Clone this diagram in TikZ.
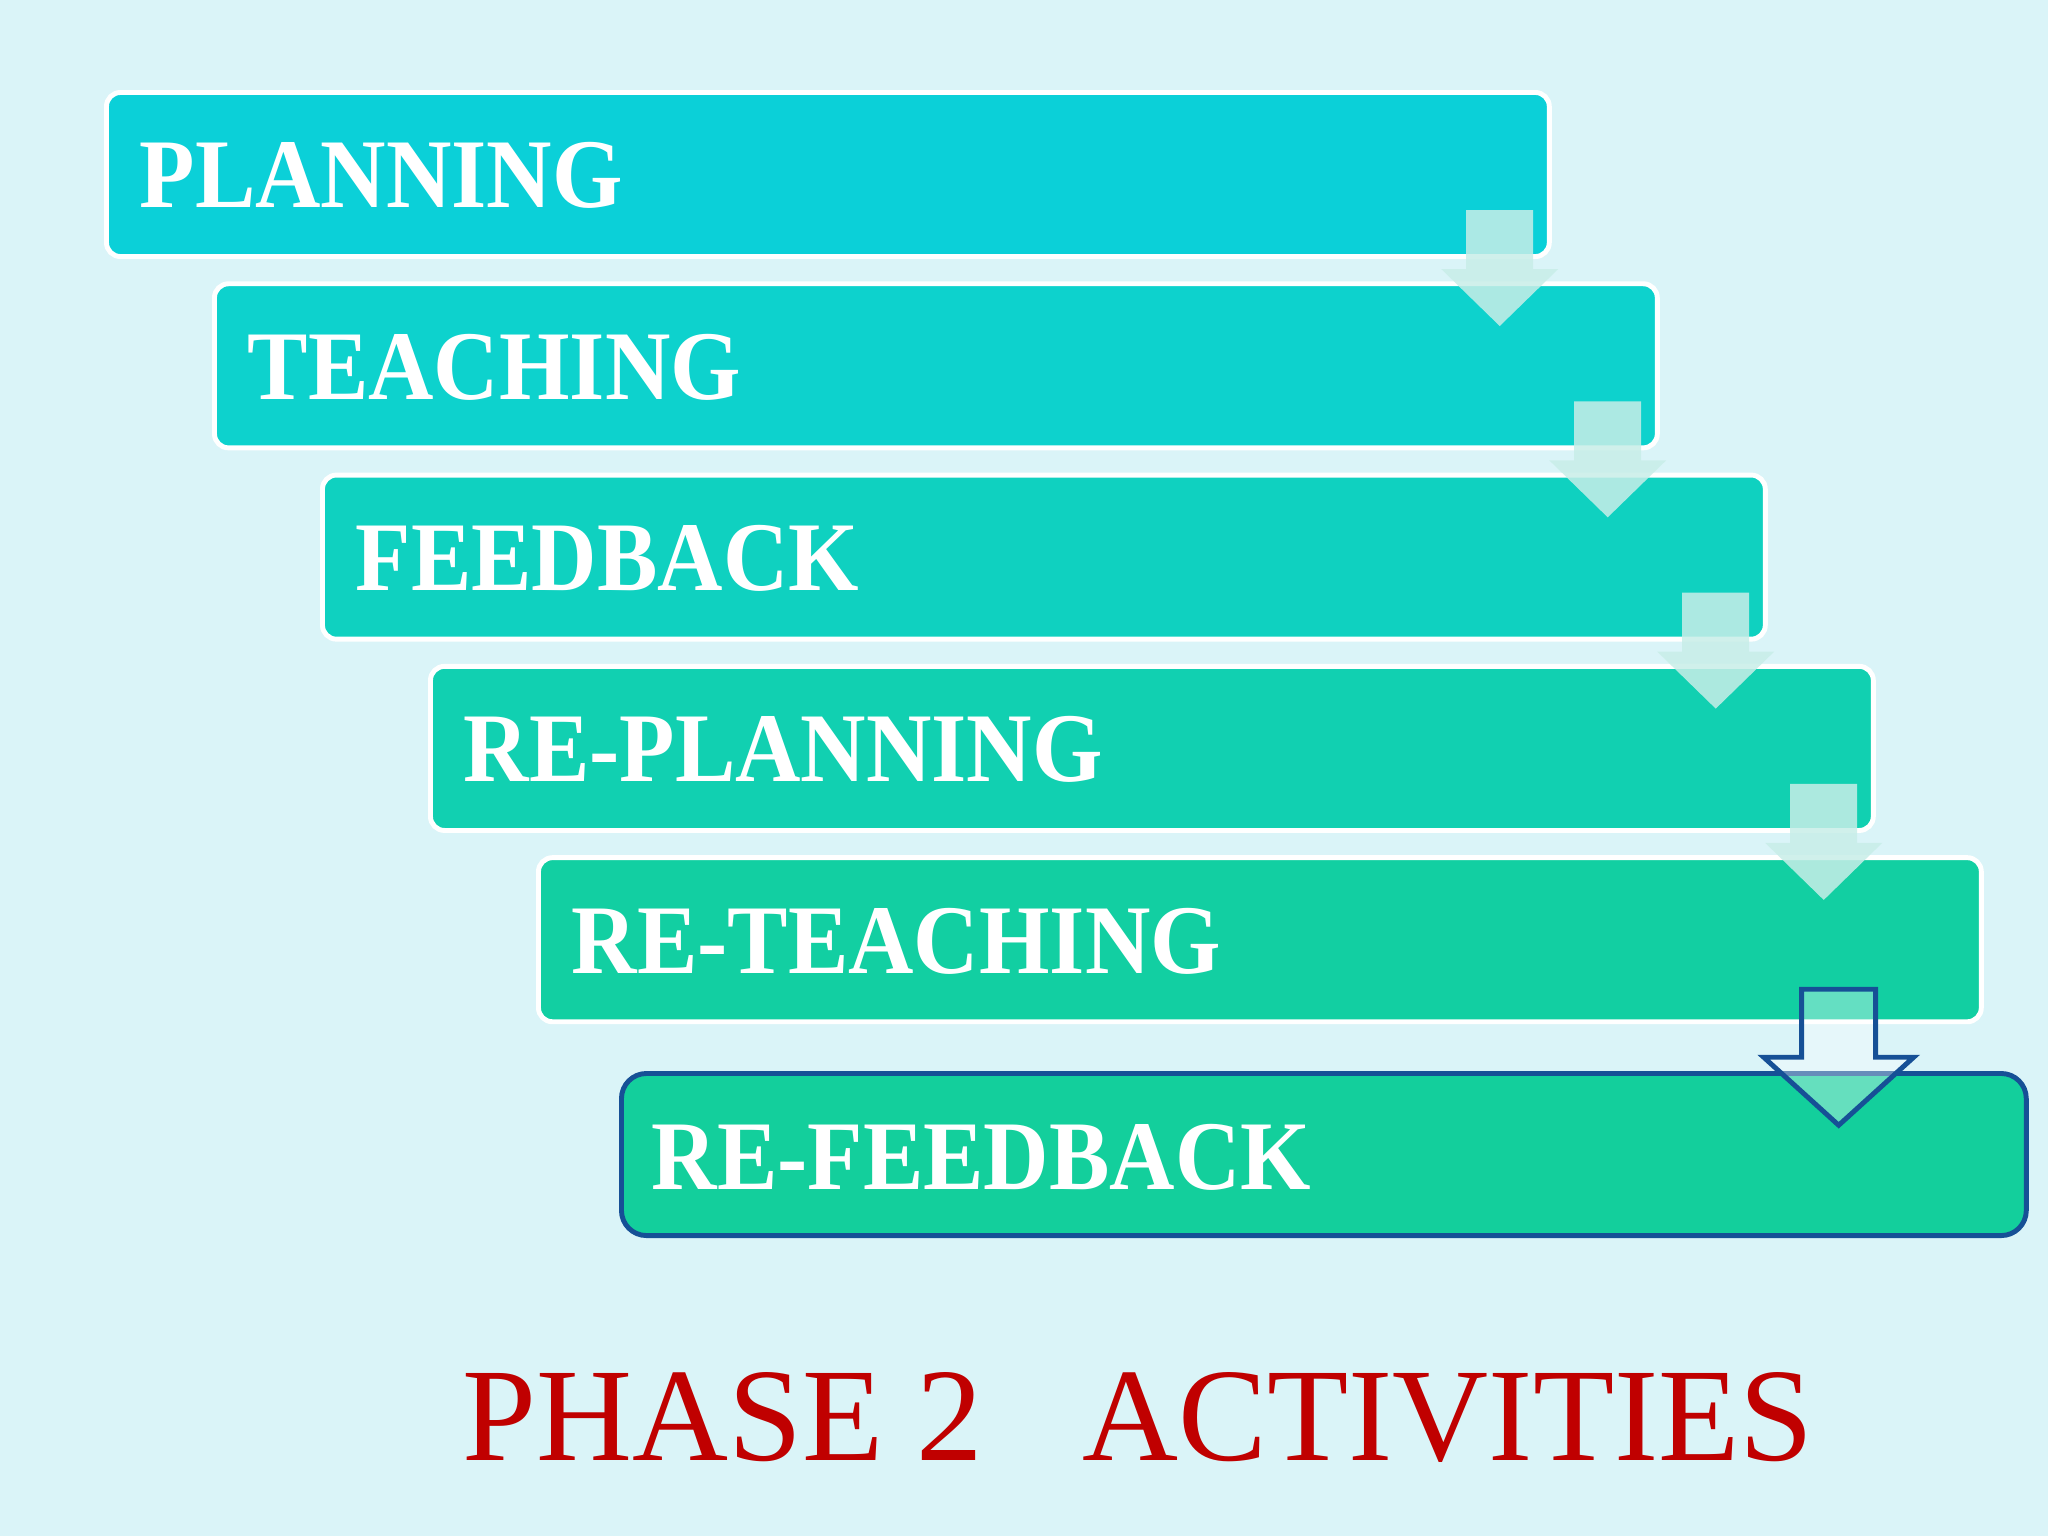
\documentclass[tikz,border=0pt]{standalone}
\usepackage{fontspec}
\setmainfont{Liberation Serif}
\newfontfamily\boxfont{Liberation Serif}[FakeStretch=0.92]
\usepackage{xcolor}

\definecolor{bgcol}{RGB}{218,244,248}
\definecolor{box1}{RGB}{11,208,216}
\definecolor{box2}{RGB}{13,210,205}
\definecolor{box3}{RGB}{15,209,192}
\definecolor{box4}{RGB}{17,208,177}
\definecolor{box5}{RGB}{18,207,162}
\definecolor{box6}{RGB}{19,207,156}
\definecolor{arrowfill}{RGB}{200,238,232}
\definecolor{arrowblue}{RGB}{22,80,150}
\definecolor{titlered}{RGB}{192,0,0}

\begin{document}
\begin{tikzpicture}[x=0.01cm, y=-0.01cm,
	stepbox/.style={draw=white, line width=1.4pt, rounded corners=0.14cm, minimum width=14.42cm, minimum height=1.64cm, inner sep=0pt, anchor=north west},
	lastbox/.style={draw=arrowblue, line width=1.4pt, rounded corners=0.25cm, minimum width=14.04cm, minimum height=1.62cm, inner sep=0pt, anchor=north west, fill=box6},
	steplabel/.style={anchor=base west, text=white, inner sep=0pt, font=\boxfont\bfseries\fontsize{28}{30}\selectfont},
	softarrow/.style={fill=arrowfill, opacity=0.85},
	hardarrow/.style={draw=arrowblue, line width=1.4pt, fill=white, fill opacity=0.35, line join=miter},
	phasetitle/.style={anchor=base, text=titlered, inner sep=0pt, font=\fontsize{37.8}{40}\selectfont}]

\def\dx{108}
\def\dy{191.3}

\fill[bgcol] (0,0) rectangle (2048,1536);
\useasboundingbox (0,0) rectangle (2048,1536);

% the five steps
\foreach \i/\txt in {1/PLANNING, 2/TEACHING, 3/FEEDBACK, 4/RE-PLANNING, 5/RE-TEACHING} {
	\pgfmathsetmacro\xs{104+(\i-1)*\dx}
	\pgfmathsetmacro\ys{90+(\i-1)*\dy}
	\node[stepbox, fill=box\i] (b\i) at (\xs,\ys) {};
	\node[steplabel] (t\i) at ([xshift=0.35cm, yshift=0.51cm]b\i.south west) {\txt};
	\coordinate (a\i) at ([xshift=-0.52cm, yshift=0.03cm]b\i.south east);
}

% last step
\node[lastbox] (b6) at (619,1071) {};
\node[steplabel] (t6) at ([xshift=0.32cm, yshift=0.49cm]b6.south west) {RE-FEEDBACK};
\coordinate (a5) at ([xshift=-1.45cm, yshift=0.03cm]b5.south east);

% arrows between the steps
\foreach \i in {1,...,4} {
	\fill[softarrow, shift={(a\i)}] (-33.5,-46) -- (33.5,-46) -- (33.5,13) -- (58.5,13)
		-- (0,70) -- (-58.5,13) -- (-33.5,13) -- cycle;
}
\draw[hardarrow, shift={(a5)}] (-37,-32) -- (37,-32) -- (37,36) -- (75,36)
	-- (0,104) -- (-75,36) -- (-37,36) -- cycle;

\node[phasetitle] (phase) at (1138,1460) {PHASE 2~~~ACTIVITIES};

\end{tikzpicture}
\end{document}
